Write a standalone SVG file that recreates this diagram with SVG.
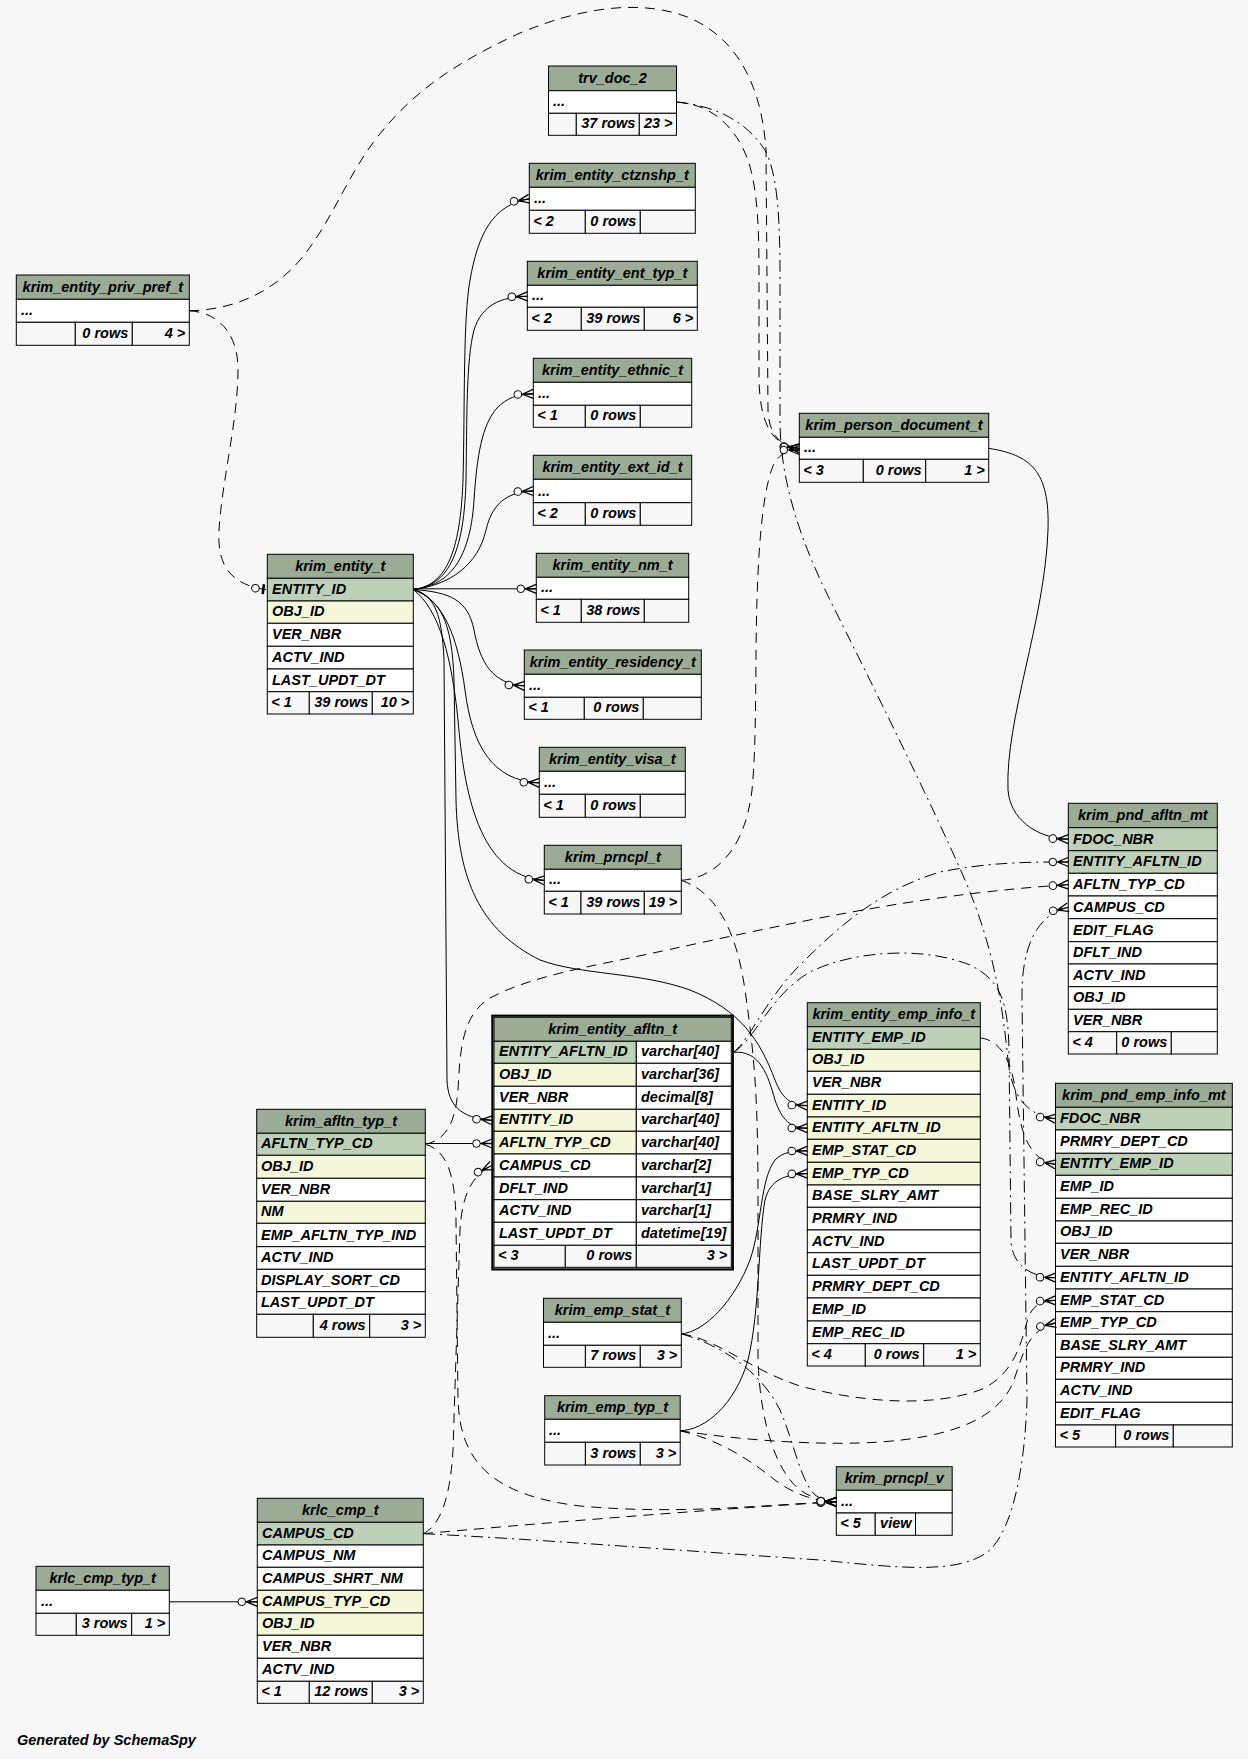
<svg xmlns="http://www.w3.org/2000/svg" width="1248" height="1759" viewBox="0 0 1248 1759">
<style>
rect{stroke:#000;stroke-width:1}
rect.bg{stroke:none}
rect.ob{fill:none;stroke-width:2.2}
.h{fill:#9bab96}.pk{fill:#bed1b8}.ix{fill:#f4f7da}.w{fill:#fff}.f{fill:#f7f7f7}
text{font-family:"Liberation Sans",Arial,Helvetica,sans-serif;font-weight:bold;font-style:italic;font-size:14.5px;fill:#000}
.c{text-anchor:middle}.r{text-anchor:end}
.e path{fill:none;stroke:#000;stroke-width:1;marker-end:url(#cd)}
.e path.d{stroke-dasharray:10,7}
.e path.dd{stroke-dasharray:12,5,2,5}
.e path.t1{marker-end:url(#to)}
</style>
<defs>
<marker id="cd" markerUnits="userSpaceOnUse" markerWidth="30" markerHeight="20" viewBox="-25 -10 30 20" refX="0" refY="0" orient="auto" overflow="visible">
<circle cx="-15.5" cy="0" r="3.8" fill="#f7f7f7" stroke="#000" stroke-width="1"/>
<path d="M-11,0 L0,-4.5 M-11,0 L0,0 M-11,0 L0,4.5" fill="none" stroke="#000" stroke-width="1.3"/>
</marker>
<marker id="to" markerUnits="userSpaceOnUse" markerWidth="30" markerHeight="20" viewBox="-25 -10 30 20" refX="0" refY="0" orient="auto" overflow="visible">
<circle cx="-12" cy="0" r="3.8" fill="#f7f7f7" stroke="#000" stroke-width="1"/>
<path d="M-4,-5 L-4,5" fill="none" stroke="#000" stroke-width="2.5"/>
</marker>
</defs>
<rect class="bg" x="0" y="0" width="1248" height="1759" fill="#f7f7f7"/>

<g id="trv_doc_2">
<rect class="h" x="548.5" y="66" width="128" height="24.7"/>
<rect class="w" x="548.5" y="90.7" width="128" height="22.6"/>
<rect class="f" x="548.5" y="113.3" width="27.8" height="22"/>
<rect class="f" x="576.3" y="113.3" width="63" height="22"/>
<rect class="f" x="639.3" y="113.3" width="37.2" height="22"/>
<text class="c" x="612.5" y="83.2">trv_doc_2</text>
<text x="553" y="106.3">...</text>
<text class="r" x="635.3" y="128.3">37 rows</text>
<text class="r" x="672.5" y="128.3">23 &gt;</text>
</g>

<g id="krim_entity_ctznshp_t">
<rect class="h" x="529.3" y="163.3" width="166" height="24"/>
<rect class="w" x="529.3" y="187.3" width="166" height="23"/>
<rect class="f" x="529.3" y="210.3" width="56" height="23"/>
<rect class="f" x="585.3" y="210.3" width="55" height="23"/>
<rect class="f" x="640.3" y="210.3" width="55" height="23"/>
<text class="c" x="612.3" y="179.8">krim_entity_ctznshp_t</text>
<text x="534" y="203.3">...</text>
<text x="533.3" y="226.3">&lt; 2</text>
<text class="r" x="636.3" y="226.3">0 rows</text>
</g>

<g id="krim_entity_ent_typ_t">
<rect class="h" x="527.3" y="261.3" width="170" height="24"/>
<rect class="w" x="527.3" y="285.3" width="170" height="22"/>
<rect class="f" x="527.3" y="307.3" width="54" height="23"/>
<rect class="f" x="581.3" y="307.3" width="63" height="23"/>
<rect class="f" x="644.3" y="307.3" width="53" height="23"/>
<text class="c" x="612.3" y="277.8">krim_entity_ent_typ_t</text>
<text x="532" y="300.3">...</text>
<text x="531.3" y="323.3">&lt; 2</text>
<text class="r" x="640.3" y="323.3">39 rows</text>
<text class="r" x="693.3" y="323.3">6 &gt;</text>
</g>

<g id="krim_entity_priv_pref_t">
<rect class="h" x="16.3" y="275" width="173" height="24.3"/>
<rect class="w" x="16.3" y="299.3" width="173" height="23"/>
<rect class="f" x="16.3" y="322.3" width="59" height="23"/>
<rect class="f" x="75.3" y="322.3" width="57" height="23"/>
<rect class="f" x="132.3" y="322.3" width="57" height="23"/>
<text class="c" x="102.8" y="291.8">krim_entity_priv_pref_t</text>
<text x="21" y="315.3">...</text>
<text class="r" x="128.3" y="338.3">0 rows</text>
<text class="r" x="185.3" y="338.3">4 &gt;</text>
</g>

<g id="krim_entity_ethnic_t">
<rect class="h" x="533.3" y="358.3" width="158.4" height="24"/>
<rect class="w" x="533.3" y="382.3" width="158.4" height="23"/>
<rect class="f" x="533.3" y="405.3" width="52" height="22"/>
<rect class="f" x="585.3" y="405.3" width="55" height="22"/>
<rect class="f" x="640.3" y="405.3" width="51.4" height="22"/>
<text class="c" x="612.5" y="374.8">krim_entity_ethnic_t</text>
<text x="538" y="398.3">...</text>
<text x="537.3" y="420.3">&lt; 1</text>
<text class="r" x="636.3" y="420.3">0 rows</text>
</g>

<g id="krim_person_document_t">
<rect class="h" x="799.3" y="413.3" width="189.4" height="24"/>
<rect class="w" x="799.3" y="437.3" width="189.4" height="22"/>
<rect class="f" x="799.3" y="459.3" width="64" height="23"/>
<rect class="f" x="863.3" y="459.3" width="62.4" height="23"/>
<rect class="f" x="925.7" y="459.3" width="63" height="23"/>
<text class="c" x="894" y="429.8">krim_person_document_t</text>
<text x="804" y="452.3">...</text>
<text x="803.3" y="475.3">&lt; 3</text>
<text class="r" x="921.7" y="475.3">0 rows</text>
<text class="r" x="984.7" y="475.3">1 &gt;</text>
</g>

<g id="krim_entity_ext_id_t">
<rect class="h" x="533.3" y="455.3" width="158.4" height="24"/>
<rect class="w" x="533.3" y="479.3" width="158.4" height="23.4"/>
<rect class="f" x="533.3" y="502.7" width="52" height="22.6"/>
<rect class="f" x="585.3" y="502.7" width="55" height="22.6"/>
<rect class="f" x="640.3" y="502.7" width="51.4" height="22.6"/>
<text class="c" x="612.5" y="471.8">krim_entity_ext_id_t</text>
<text x="538" y="495.7">...</text>
<text x="537.3" y="518.3">&lt; 2</text>
<text class="r" x="636.3" y="518.3">0 rows</text>
</g>

<g id="krim_entity_t">
<rect class="h" x="267.3" y="554.3" width="146" height="24"/>
<rect class="pk" x="267.3" y="578.3" width="146" height="22.7"/>
<rect class="ix" x="267.3" y="601" width="146" height="22.3"/>
<rect class="w" x="267.3" y="623.3" width="146" height="23"/>
<rect class="w" x="267.3" y="646.3" width="146" height="22.7"/>
<rect class="w" x="267.3" y="669" width="146" height="22.7"/>
<rect class="f" x="267.3" y="691.7" width="42" height="22.3"/>
<rect class="f" x="309.3" y="691.7" width="63" height="22.3"/>
<rect class="f" x="372.3" y="691.7" width="41" height="22.3"/>
<text class="c" x="340.3" y="570.8">krim_entity_t</text>
<text x="272" y="594">ENTITY_ID</text>
<text x="272" y="616.3">OBJ_ID</text>
<text x="272" y="639.3">VER_NBR</text>
<text x="272" y="662">ACTV_IND</text>
<text x="272" y="684.7">LAST_UPDT_DT</text>
<text x="271.3" y="707">&lt; 1</text>
<text class="r" x="368.3" y="707">39 rows</text>
<text class="r" x="409.3" y="707">10 &gt;</text>
</g>

<g id="krim_entity_nm_t">
<rect class="h" x="536.3" y="553.3" width="152.4" height="24"/>
<rect class="w" x="536.3" y="577.3" width="152.4" height="22"/>
<rect class="f" x="536.3" y="599.3" width="45" height="23"/>
<rect class="f" x="581.3" y="599.3" width="63" height="23"/>
<rect class="f" x="644.3" y="599.3" width="44.4" height="23"/>
<text class="c" x="612.5" y="569.8">krim_entity_nm_t</text>
<text x="541" y="592.3">...</text>
<text x="540.3" y="615.3">&lt; 1</text>
<text class="r" x="640.3" y="615.3">38 rows</text>
</g>

<g id="krim_entity_residency_t">
<rect class="h" x="524.3" y="650" width="177" height="24.3"/>
<rect class="w" x="524.3" y="674.3" width="177" height="23"/>
<rect class="f" x="524.3" y="697.3" width="60" height="22"/>
<rect class="f" x="584.3" y="697.3" width="59" height="22"/>
<rect class="f" x="643.3" y="697.3" width="58" height="22"/>
<text class="c" x="612.8" y="666.8">krim_entity_residency_t</text>
<text x="529" y="690.3">...</text>
<text x="528.3" y="712.3">&lt; 1</text>
<text class="r" x="639.3" y="712.3">0 rows</text>
</g>

<g id="krim_entity_visa_t">
<rect class="h" x="539.3" y="747.3" width="146" height="24"/>
<rect class="w" x="539.3" y="771.3" width="146" height="23"/>
<rect class="f" x="539.3" y="794.3" width="46" height="23"/>
<rect class="f" x="585.3" y="794.3" width="55" height="23"/>
<rect class="f" x="640.3" y="794.3" width="45" height="23"/>
<text class="c" x="612.3" y="763.8">krim_entity_visa_t</text>
<text x="544" y="787.3">...</text>
<text x="543.3" y="810.3">&lt; 1</text>
<text class="r" x="636.3" y="810.3">0 rows</text>
</g>

<g id="krim_prncpl_t">
<rect class="h" x="544.3" y="845.3" width="137" height="24"/>
<rect class="w" x="544.3" y="869.3" width="137" height="22"/>
<rect class="f" x="544.3" y="891.3" width="36.7" height="22.7"/>
<rect class="f" x="581" y="891.3" width="63.3" height="22.7"/>
<rect class="f" x="644.3" y="891.3" width="37" height="22.7"/>
<text class="c" x="612.8" y="861.8">krim_prncpl_t</text>
<text x="549" y="884.3">...</text>
<text x="548.3" y="907">&lt; 1</text>
<text class="r" x="640.3" y="907">39 rows</text>
<text class="r" x="677.3" y="907">19 &gt;</text>
</g>

<g id="krim_pnd_afltn_mt">
<rect class="h" x="1068.3" y="803.3" width="149" height="24.4"/>
<rect class="pk" x="1068.3" y="827.7" width="149" height="23"/>
<rect class="pk" x="1068.3" y="850.7" width="149" height="22.6"/>
<rect class="w" x="1068.3" y="873.3" width="149" height="22.7"/>
<rect class="w" x="1068.3" y="896" width="149" height="22.7"/>
<rect class="w" x="1068.3" y="918.7" width="149" height="23"/>
<rect class="w" x="1068.3" y="941.7" width="149" height="22.3"/>
<rect class="w" x="1068.3" y="964" width="149" height="22.7"/>
<rect class="w" x="1068.3" y="986.7" width="149" height="22.6"/>
<rect class="w" x="1068.3" y="1009.3" width="149" height="22.4"/>
<rect class="f" x="1068.3" y="1031.7" width="48.4" height="22.3"/>
<rect class="f" x="1116.7" y="1031.7" width="54.6" height="22.3"/>
<rect class="f" x="1171.3" y="1031.7" width="46" height="22.3"/>
<text class="c" x="1142.8" y="820.2">krim_pnd_afltn_mt</text>
<text x="1073" y="843.7">FDOC_NBR</text>
<text x="1073" y="866.3">ENTITY_AFLTN_ID</text>
<text x="1073" y="889">AFLTN_TYP_CD</text>
<text x="1073" y="911.7">CAMPUS_CD</text>
<text x="1073" y="934.7">EDIT_FLAG</text>
<text x="1073" y="957">DFLT_IND</text>
<text x="1073" y="979.7">ACTV_IND</text>
<text x="1073" y="1002.3">OBJ_ID</text>
<text x="1073" y="1024.7">VER_NBR</text>
<text x="1072.3" y="1047">&lt; 4</text>
<text class="r" x="1167.3" y="1047">0 rows</text>
</g>

<g id="krim_entity_emp_info_t">
<rect class="h" x="807.3" y="1002.7" width="173" height="24"/>
<rect class="pk" x="807.3" y="1026.7" width="173" height="22.6"/>
<rect class="ix" x="807.3" y="1049.3" width="173" height="22"/>
<rect class="w" x="807.3" y="1071.3" width="173" height="23"/>
<rect class="ix" x="807.3" y="1094.3" width="173" height="22.7"/>
<rect class="ix" x="807.3" y="1117" width="173" height="22.3"/>
<rect class="ix" x="807.3" y="1139.3" width="173" height="23"/>
<rect class="ix" x="807.3" y="1162.3" width="173" height="22.7"/>
<rect class="w" x="807.3" y="1185" width="173" height="22.3"/>
<rect class="w" x="807.3" y="1207.3" width="173" height="22.7"/>
<rect class="w" x="807.3" y="1230" width="173" height="22.7"/>
<rect class="w" x="807.3" y="1252.7" width="173" height="22.6"/>
<rect class="w" x="807.3" y="1275.3" width="173" height="22.7"/>
<rect class="w" x="807.3" y="1298" width="173" height="23"/>
<rect class="w" x="807.3" y="1321" width="173" height="22.7"/>
<rect class="f" x="807.3" y="1343.7" width="58" height="22.3"/>
<rect class="f" x="865.3" y="1343.7" width="58.4" height="22.3"/>
<rect class="f" x="923.7" y="1343.7" width="56.6" height="22.3"/>
<text class="c" x="893.8" y="1019.2">krim_entity_emp_info_t</text>
<text x="812" y="1042.3">ENTITY_EMP_ID</text>
<text x="812" y="1064.3">OBJ_ID</text>
<text x="812" y="1087.3">VER_NBR</text>
<text x="812" y="1110">ENTITY_ID</text>
<text x="812" y="1132.3">ENTITY_AFLTN_ID</text>
<text x="812" y="1155.3">EMP_STAT_CD</text>
<text x="812" y="1178">EMP_TYP_CD</text>
<text x="812" y="1200.3">BASE_SLRY_AMT</text>
<text x="812" y="1223">PRMRY_IND</text>
<text x="812" y="1245.7">ACTV_IND</text>
<text x="812" y="1268.3">LAST_UPDT_DT</text>
<text x="812" y="1291">PRMRY_DEPT_CD</text>
<text x="812" y="1314">EMP_ID</text>
<text x="812" y="1336.7">EMP_REC_ID</text>
<text x="811.3" y="1359">&lt; 4</text>
<text class="r" x="919.7" y="1359">0 rows</text>
<text class="r" x="976.3" y="1359">1 &gt;</text>
</g>

<g id="krim_pnd_emp_info_mt">
<rect class="h" x="1055.5" y="1083.3" width="176.8" height="24"/>
<rect class="pk" x="1055.5" y="1107.3" width="176.8" height="22.7"/>
<rect class="w" x="1055.5" y="1130" width="176.8" height="23.3"/>
<rect class="pk" x="1055.5" y="1153.3" width="176.8" height="22"/>
<rect class="w" x="1055.5" y="1175.3" width="176.8" height="23"/>
<rect class="w" x="1055.5" y="1198.3" width="176.8" height="22.7"/>
<rect class="w" x="1055.5" y="1221" width="176.8" height="22.3"/>
<rect class="w" x="1055.5" y="1243.3" width="176.8" height="23"/>
<rect class="w" x="1055.5" y="1266.3" width="176.8" height="22.7"/>
<rect class="w" x="1055.5" y="1289" width="176.8" height="22.7"/>
<rect class="w" x="1055.5" y="1311.7" width="176.8" height="22.6"/>
<rect class="w" x="1055.5" y="1334.3" width="176.8" height="23"/>
<rect class="w" x="1055.5" y="1357.3" width="176.8" height="22"/>
<rect class="w" x="1055.5" y="1379.3" width="176.8" height="23"/>
<rect class="w" x="1055.5" y="1402.3" width="176.8" height="22.7"/>
<rect class="f" x="1055.5" y="1425" width="60.1" height="22"/>
<rect class="f" x="1115.6" y="1425" width="57.7" height="22"/>
<rect class="f" x="1173.3" y="1425" width="59" height="22"/>
<text class="c" x="1143.9" y="1099.8">krim_pnd_emp_info_mt</text>
<text x="1060" y="1123">FDOC_NBR</text>
<text x="1060" y="1146.3">PRMRY_DEPT_CD</text>
<text x="1060" y="1168.3">ENTITY_EMP_ID</text>
<text x="1060" y="1191.3">EMP_ID</text>
<text x="1060" y="1214">EMP_REC_ID</text>
<text x="1060" y="1236.3">OBJ_ID</text>
<text x="1060" y="1259.3">VER_NBR</text>
<text x="1060" y="1282">ENTITY_AFLTN_ID</text>
<text x="1060" y="1304.7">EMP_STAT_CD</text>
<text x="1060" y="1327.3">EMP_TYP_CD</text>
<text x="1060" y="1350.3">BASE_SLRY_AMT</text>
<text x="1060" y="1372.3">PRMRY_IND</text>
<text x="1060" y="1395.3">ACTV_IND</text>
<text x="1060" y="1418">EDIT_FLAG</text>
<text x="1059.5" y="1440">&lt; 5</text>
<text class="r" x="1169.3" y="1440">0 rows</text>
</g>

<g id="krim_entity_afltn_t">
<rect class="ob" x="492.4" y="1015.7" width="240.4" height="253.7"/>
<rect class="h" x="494" y="1017.3" width="237.3" height="24"/>
<rect class="pk" x="494" y="1041.3" width="142.3" height="22"/>
<rect class="w" x="636.3" y="1041.3" width="95" height="22"/>
<rect class="ix" x="494" y="1063.3" width="142.3" height="23"/>
<rect class="w" x="636.3" y="1063.3" width="95" height="23"/>
<rect class="w" x="494" y="1086.3" width="142.3" height="23"/>
<rect class="w" x="636.3" y="1086.3" width="95" height="23"/>
<rect class="ix" x="494" y="1109.3" width="142.3" height="22"/>
<rect class="w" x="636.3" y="1109.3" width="95" height="22"/>
<rect class="ix" x="494" y="1131.3" width="142.3" height="22.7"/>
<rect class="w" x="636.3" y="1131.3" width="95" height="22.7"/>
<rect class="w" x="494" y="1154" width="142.3" height="23"/>
<rect class="w" x="636.3" y="1154" width="95" height="23"/>
<rect class="w" x="494" y="1177" width="142.3" height="22.7"/>
<rect class="w" x="636.3" y="1177" width="95" height="22.7"/>
<rect class="w" x="494" y="1199.7" width="142.3" height="22.6"/>
<rect class="w" x="636.3" y="1199.7" width="95" height="22.6"/>
<rect class="w" x="494" y="1222.3" width="142.3" height="23"/>
<rect class="w" x="636.3" y="1222.3" width="95" height="23"/>
<rect class="f" x="494" y="1245.3" width="71.3" height="22"/>
<rect class="f" x="565.3" y="1245.3" width="71" height="22"/>
<rect class="f" x="636.3" y="1245.3" width="95" height="22"/>
<text class="c" x="612.7" y="1033.8">krim_entity_afltn_t</text>
<text x="499" y="1056.3">ENTITY_AFLTN_ID</text>
<text x="499" y="1079.3">OBJ_ID</text>
<text x="499" y="1102.3">VER_NBR</text>
<text x="499" y="1124.3">ENTITY_ID</text>
<text x="499" y="1147">AFLTN_TYP_CD</text>
<text x="499" y="1170">CAMPUS_CD</text>
<text x="499" y="1192.7">DFLT_IND</text>
<text x="499" y="1215.3">ACTV_IND</text>
<text x="499" y="1238.3">LAST_UPDT_DT</text>
<text x="641" y="1056.3">varchar[40]</text>
<text x="641" y="1079.3">varchar[36]</text>
<text x="641" y="1102.3">decimal[8]</text>
<text x="641" y="1124.3">varchar[40]</text>
<text x="641" y="1147">varchar[40]</text>
<text x="641" y="1170">varchar[2]</text>
<text x="641" y="1192.7">varchar[1]</text>
<text x="641" y="1215.3">varchar[1]</text>
<text x="641" y="1238.3">datetime[19]</text>
<text x="498" y="1260.3">&lt; 3</text>
<text class="r" x="632.3" y="1260.3">0 rows</text>
<text class="r" x="727.3" y="1260.3">3 &gt;</text>
</g>

<g id="krim_afltn_typ_t">
<rect class="h" x="256.7" y="1109.3" width="168.6" height="24"/>
<rect class="pk" x="256.7" y="1133.3" width="168.6" height="22"/>
<rect class="ix" x="256.7" y="1155.3" width="168.6" height="23"/>
<rect class="w" x="256.7" y="1178.3" width="168.6" height="23"/>
<rect class="ix" x="256.7" y="1201.3" width="168.6" height="22"/>
<rect class="w" x="256.7" y="1223.3" width="168.6" height="23.4"/>
<rect class="w" x="256.7" y="1246.7" width="168.6" height="22.6"/>
<rect class="w" x="256.7" y="1269.3" width="168.6" height="22.4"/>
<rect class="w" x="256.7" y="1291.7" width="168.6" height="22.6"/>
<rect class="f" x="256.7" y="1314.3" width="56.6" height="23"/>
<rect class="f" x="313.3" y="1314.3" width="56.4" height="23"/>
<rect class="f" x="369.7" y="1314.3" width="55.6" height="23"/>
<text class="c" x="341" y="1125.8">krim_afltn_typ_t</text>
<text x="261" y="1148.3">AFLTN_TYP_CD</text>
<text x="261" y="1171.3">OBJ_ID</text>
<text x="261" y="1194.3">VER_NBR</text>
<text x="261" y="1216.3">NM</text>
<text x="261" y="1239.7">EMP_AFLTN_TYP_IND</text>
<text x="261" y="1262.3">ACTV_IND</text>
<text x="261" y="1284.7">DISPLAY_SORT_CD</text>
<text x="261" y="1307.3">LAST_UPDT_DT</text>
<text class="r" x="365.7" y="1330.3">4 rows</text>
<text class="r" x="421.3" y="1330.3">3 &gt;</text>
</g>

<g id="krim_emp_stat_t">
<rect class="h" x="543.5" y="1298.3" width="137.8" height="24"/>
<rect class="w" x="543.5" y="1322.3" width="137.8" height="23"/>
<rect class="f" x="543.5" y="1345.3" width="41.9" height="22"/>
<rect class="f" x="585.4" y="1345.3" width="54.9" height="22"/>
<rect class="f" x="640.3" y="1345.3" width="41" height="22"/>
<text class="c" x="612.4" y="1314.8">krim_emp_stat_t</text>
<text x="548" y="1338.3">...</text>
<text class="r" x="636.3" y="1360.3">7 rows</text>
<text class="r" x="677.3" y="1360.3">3 &gt;</text>
</g>

<g id="krim_emp_typ_t">
<rect class="h" x="544.7" y="1395.7" width="135.5" height="23.6"/>
<rect class="w" x="544.7" y="1419.3" width="135.5" height="23"/>
<rect class="f" x="544.7" y="1442.3" width="40.7" height="22.7"/>
<rect class="f" x="585.4" y="1442.3" width="54.9" height="22.7"/>
<rect class="f" x="640.3" y="1442.3" width="39.9" height="22.7"/>
<text class="c" x="612.5" y="1411.8">krim_emp_typ_t</text>
<text x="549" y="1435.3">...</text>
<text class="r" x="636.3" y="1458">3 rows</text>
<text class="r" x="676.2" y="1458">3 &gt;</text>
</g>

<g id="krim_prncpl_v">
<rect class="h" x="836.3" y="1466.7" width="115.9" height="23.6"/>
<rect class="w" x="836.3" y="1490.3" width="115.9" height="22.7"/>
<rect class="f" x="836.3" y="1513" width="38.9" height="22.3"/>
<rect class="f" x="875.2" y="1513" width="40.3" height="22.3"/>
<rect class="f" x="915.5" y="1513" width="36.7" height="22.3"/>
<text class="c" x="894.3" y="1482.8">krim_prncpl_v</text>
<text x="841" y="1506">...</text>
<text x="840.3" y="1528.3">&lt; 5</text>
<text class="r" x="911.5" y="1528.3">view</text>
</g>

<g id="krlc_cmp_t">
<rect class="h" x="257.3" y="1498.3" width="166" height="24"/>
<rect class="pk" x="257.3" y="1522.3" width="166" height="22.7"/>
<rect class="w" x="257.3" y="1545" width="166" height="22.3"/>
<rect class="w" x="257.3" y="1567.3" width="166" height="23"/>
<rect class="ix" x="257.3" y="1590.3" width="166" height="22.7"/>
<rect class="ix" x="257.3" y="1613" width="166" height="22.3"/>
<rect class="w" x="257.3" y="1635.3" width="166" height="23"/>
<rect class="w" x="257.3" y="1658.3" width="166" height="23"/>
<rect class="f" x="257.3" y="1681.3" width="52" height="22"/>
<rect class="f" x="309.3" y="1681.3" width="63" height="22"/>
<rect class="f" x="372.3" y="1681.3" width="51" height="22"/>
<text class="c" x="340.3" y="1514.8">krlc_cmp_t</text>
<text x="262" y="1538">CAMPUS_CD</text>
<text x="262" y="1560.3">CAMPUS_NM</text>
<text x="262" y="1583.3">CAMPUS_SHRT_NM</text>
<text x="262" y="1606">CAMPUS_TYP_CD</text>
<text x="262" y="1628.3">OBJ_ID</text>
<text x="262" y="1651.3">VER_NBR</text>
<text x="262" y="1674.3">ACTV_IND</text>
<text x="261.3" y="1696.3">&lt; 1</text>
<text class="r" x="368.3" y="1696.3">12 rows</text>
<text class="r" x="419.3" y="1696.3">3 &gt;</text>
</g>

<g id="krlc_cmp_typ_t">
<rect class="h" x="36" y="1566.3" width="133.3" height="24"/>
<rect class="w" x="36" y="1590.3" width="133.3" height="23"/>
<rect class="f" x="36" y="1613.3" width="40.3" height="22"/>
<rect class="f" x="76.3" y="1613.3" width="55.4" height="22"/>
<rect class="f" x="131.7" y="1613.3" width="37.6" height="22"/>
<text class="c" x="102.7" y="1582.8">krlc_cmp_typ_t</text>
<text x="41" y="1606.3">...</text>
<text class="r" x="127.7" y="1628.3">3 rows</text>
<text class="r" x="165.3" y="1628.3">1 &gt;</text>
</g>

<g id="connectors" class="e">
<path d="M413.3,589.5 C440,586 460,565 463,480 C465,400 463,320 470,280 C478,235 492,205 529.3,198.8"/>
<path d="M413.3,589.5 C442,586 464,565 466,480 C467,420 466,360 474,330 C482,305 500,297 527.3,296.3"/>
<path d="M413.3,589.5 C445,586 470,565 474,500 C477,455 482,425 497,408 C507,398 516,394.5 533.3,393.8"/>
<path d="M413.3,589.5 C450,585 478,565 486,530 C492,505 505,492 533.3,491"/>
<path d="M413.3,588.8 L536.3,588.8"/>
<path d="M413.3,589.5 C450,592 468,600 474,630 C480,662 492,684 524.3,685.8"/>
<path d="M413.3,589.5 C445,600 458,640 465,690 C472,745 492,781 539.3,782.8"/>
<path d="M413.3,589.5 C440,610 452,660 458,720 C464,790 478,876 544.3,880.3"/>
<path d="M413.3,589.5 C435,595 442,615 444,660 L447,1080 C448,1105 460,1118 492,1120.3"/>
<path d="M413.3,589.5 C440,600 452,620 454,680 L456,800 C458,880 480,930 540,960 C580,975 640,972 690,990 C740,1010 760,1040 775,1080 C782,1098 790,1105 807.3,1105.7"/>
<path d="M733.3,1052.3 C760,1050 768,1075 775,1100 C782,1120 790,1128 807.3,1128.2"/>
<path d="M425.3,1143.5 L492,1143.5"/>
<path d="M681.3,1333.8 C705,1332 735,1300 750,1260 C762,1225 760,1180 775,1160 C783,1152 792,1151 807.3,1150.8"/>
<path d="M680.2,1430.8 C705,1430 735,1405 748,1360 C760,1310 758,1240 765,1200 C770,1180 785,1174 807.3,1173.7"/>
<path d="M988.7,448.3 C1030,455 1050,470 1048,530 C1045,620 1005,720 1008,790 C1010,818 1035,838 1068.3,839.2"/>
<path d="M169.3,1601.8 L257.3,1601.8"/>
<path class="d t1" d="M189.3,310.8 C215,312 238,330 238,370 C238,420 222,480 219,530 C217,565 230,585 267.3,589.7"/>
<path class="d" d="M189.3,310.8 C230,310 270,295 300,260 C330,225 345,180 375,140 C410,95 450,65 520,33 C580,8 640,-2 690,18 C740,40 762,90 766,150 L768,410 C769,435 780,446 799.3,448.3"/>
<path class="d" d="M676.5,102 C710,104 735,125 748,160 C758,190 759,230 759,280 L759,380 C760,420 770,446 799.3,448.3"/>
<path class="dd" d="M676.5,102 C715,106 745,120 765,150 C778,175 780,220 780,280 L780,420 C780,480 800,540 830,600 C870,680 930,800 965,880 C995,950 1003,1010 1008,1060 C1012,1100 1030,1116 1055.5,1118.7"/>
<path class="d" d="M681.3,880.3 C715,878 745,850 752,790 C757,740 755,660 757,600 C759,530 765,480 775,462 C782,452 790,450 799.3,450"/>
<path class="d" d="M681.3,880.3 C710,890 735,920 745,990 C755,1060 758,1100 758,1200 L758,1360 C760,1420 775,1470 800,1490 C812,1498 822,1501 836.3,1501.8"/>
<path class="dd" d="M733.3,1052.3 C750,1040 765,1000 800,965 C840,925 880,890 940,872 C990,862 1030,862 1068.3,862"/>
<path class="dd" d="M733.3,1052.3 C755,1040 770,995 810,972 C850,952 920,945 970,965 C1000,980 1008,1000 1009,1050 L1011,1240 C1012,1265 1030,1277 1055.5,1277.7"/>
<path class="d" d="M425.3,1144.3 C445,1140 455,1125 458,1090 C460,1050 462,1015 490,998 C520,982 560,972 620,960 C750,933 900,895 1068.3,884.7"/>
<path class="dd" d="M423.3,1533.7 C550,1540 700,1552 820,1560 C900,1568 960,1575 990,1550 C1015,1525 1025,1460 1027,1400 L1022,1000 C1021,950 1035,915 1068.3,907.3"/>
<path class="d" d="M423.3,1533.7 C520,1525 700,1510 836.3,1501.8"/>
<path class="d" d="M423.3,1533.7 C440,1525 450,1500 453,1450 L460,1230 C462,1195 472,1175 492,1165.5"/>
<path class="d" d="M425.3,1144.3 C445,1150 455,1170 456,1220 L458,1400 C460,1460 490,1495 580,1506 C680,1515 760,1505 836.3,1501.8"/>
<path class="d" d="M980.3,1038 C1000,1040 1012,1060 1016,1095 C1020,1130 1028,1160 1055.5,1164.3"/>
<path class="d" d="M681.3,1333.8 C720,1340 750,1370 800,1386 C860,1402 930,1408 980,1390 C1015,1375 1022,1340 1028,1318 C1033,1305 1042,1301 1055.5,1300.3"/>
<path class="d" d="M680.2,1430.8 C740,1440 820,1446 880,1442 C950,1437 995,1420 1012,1385 C1022,1360 1025,1330 1055.5,1323"/>
<path class="dd" d="M681.3,1333.8 C720,1345 760,1370 780,1410 C795,1445 800,1480 815,1495 C822,1500 828,1501.5 836.3,1501.8"/>
<path class="d" d="M680.2,1430.8 C720,1440 750,1460 775,1480 C795,1495 815,1501 836.3,1501.8"/>
</g>

<text x="17" y="1745">Generated by SchemaSpy</text>
</svg>
